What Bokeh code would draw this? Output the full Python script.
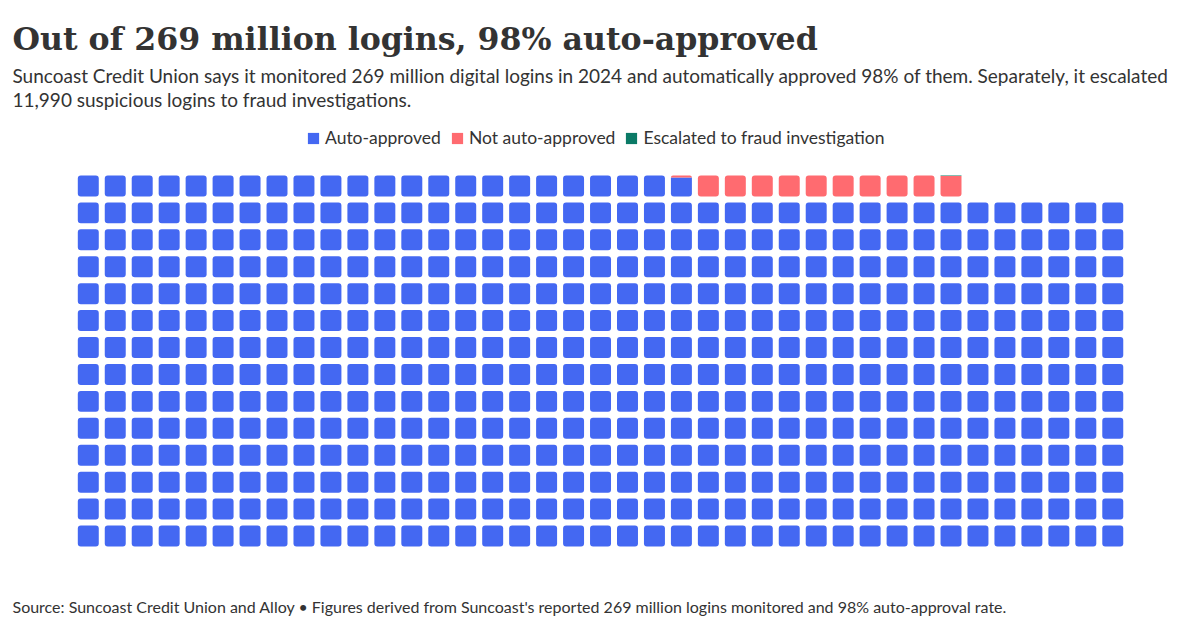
import math
from bokeh.plotting import figure
from bokeh.models import Range1d, Label, Legend, LegendItem, ColumnDataSource
from bokeh.embed import file_html
from bokeh.resources import INLINE

# ---- data ----
categories = ["Auto-approved", "Not auto-approved", "Escalated to fraud investigation"]
logins_millions = [263.97, 5.018, 0.01199]   # 269 million logins in total
colors = ["#4468F2", "#FF6B70", "#0B7A66"]
total_millions = 269
n_cells = 540          # each square ~0.5 million logins
n_cols = 39

title_text = "Out of 269 million logins, 98% auto-approved"
subtitle_lines = [
    "Suncoast Credit Union says it monitored 269 million digital logins in 2024 and automatically approved 98% of them. Separately, it escalated",
    "11,990 suspicious logins to fraud investigations.",
]
source_text = ("Source: Suncoast Credit Union and Alloy \u2022 Figures derived from Suncoast's reported "
               "269 million logins monitored and 98% auto-approval rate.")

# ---- layout constants ----
W, H = 1200, 630
px_left, px_bottom = 77.3, 84.0
pitch_x, pitch_y = 26.96, 26.93
cell = 0.778   # cell size as fraction of pitch
rad = 3
text_color = "#333333"

p = figure(width=W, height=H, output_backend="svg", toolbar_location=None,
           x_range=Range1d(-px_left / pitch_x, (W - px_left) / pitch_x),
           y_range=Range1d(-px_bottom / pitch_y, (H - px_bottom) / pitch_y),
           x_axis_location=None, y_axis_location=None,
           min_border=0, min_border_left=0, min_border_right=0,
           min_border_top=0, min_border_bottom=0,
           outline_line_color=None, background_fill_color="white")
p.grid.visible = False

# ---- build pieces ----
per_cell = n_cells / total_millions
cum = 0.0
legend_items = []
for cat, val, col in zip(categories, logins_millions, colors):
    a = cum * per_cell
    b = (cum + val) * per_cell
    cum += val
    groups = {k: dict(left=[], right=[], bottom=[], top=[]) for k in ("full", "bottom", "top", "mid")}
    c = int(math.floor(a))
    while c < b and c < n_cells:
        lo = max(a, c) - c
        hi = min(b, c + 1) - c
        if hi - lo > 1e-9:
            row, cc = divmod(c, n_cols)
            if lo <= 1e-9 and hi >= 1 - 1e-9:
                k = "full"
            elif lo <= 1e-9:
                k = "bottom"
            elif hi >= 1 - 1e-9:
                k = "top"
            else:
                k = "mid"
            g = groups[k]
            g["left"].append(cc)
            g["right"].append(cc + cell)
            g["bottom"].append(row + lo * cell)
            g["top"].append(row + hi * cell)
        c += 1
    radii = {"full": rad, "bottom": (0, 0, rad, rad), "top": (rad, rad, 0, 0), "mid": 0}
    leg_r = None
    for k in ("full", "bottom", "top", "mid"):
        r = p.quad(source=ColumnDataSource(groups[k]), left="left", right="right",
                   bottom="bottom", top="top", fill_color=col, line_color=None,
                   border_radius=radii[k])
        if leg_r is None and len(groups[k]["left"]) > 0:
            leg_r = r
    legend_items.append(LegendItem(label=cat, renderers=[leg_r]))

legend = Legend(items=legend_items, orientation="horizontal", location=(306, 482),
                glyph_width=14, glyph_height=14, label_standoff=5, spacing=9,
                padding=0, margin=0, border_line_color=None, background_fill_alpha=0,
                label_text_font="Lato", label_text_font_size="17.5px",
                label_text_color=text_color, label_height=14)
p.add_layout(legend)

# ---- texts ----
p.add_layout(Label(x=12, y=H - 38, x_units="screen", y_units="screen", text=title_text,
                   text_font="DejaVu Serif", text_font_style="bold", text_font_size="31.6px",
                   text_color=text_color, text_baseline="alphabetic"))
for i, line in enumerate(subtitle_lines):
    p.add_layout(Label(x=12, y=H - 75 - 24 * i, x_units="screen", y_units="screen", text=line,
                       text_font="Lato", text_font_size="19px", text_color=text_color,
                       text_baseline="alphabetic"))
p.add_layout(Label(x=12, y=H - 606, x_units="screen", y_units="screen", text=source_text,
                   text_font="Lato", text_font_size="16px", text_color=text_color,
                   text_baseline="alphabetic"))

open("out.html", "w").write(file_html(p, INLINE))
